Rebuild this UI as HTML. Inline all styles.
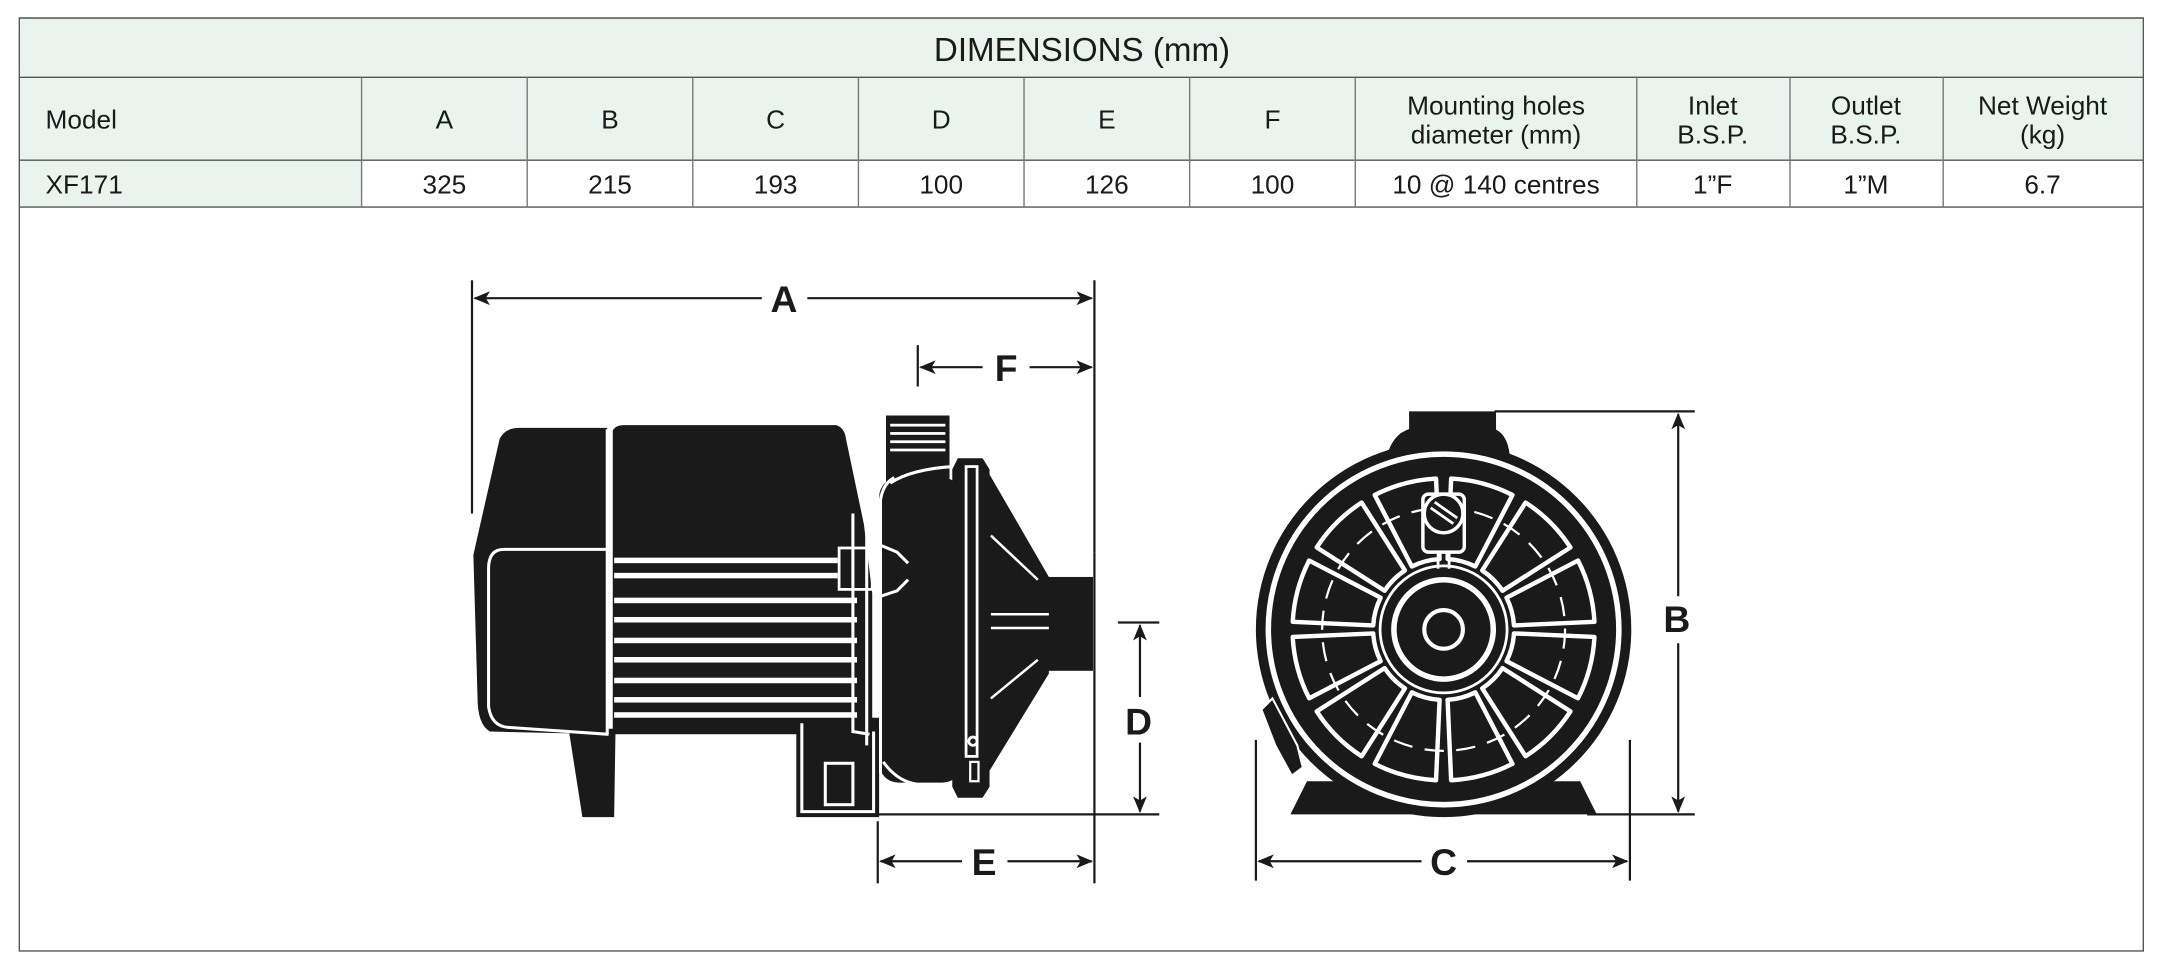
<!DOCTYPE html>
<html><head><meta charset="utf-8"><style>
html,body{margin:0;padding:0;background:#fff;}
svg{display:block;}
text{font-family:"Liberation Sans",sans-serif;fill:#1a1a1a;}
.h{font-size:19px;}
.d{font-size:19px;}
.L{font-family:"Liberation Sans",sans-serif;font-weight:bold;font-size:27px;fill:#1a1a1a;}
</style></head><body>
<svg width="2164" height="969" viewBox="0 0 1568 702" xmlns="http://www.w3.org/2000/svg">
<defs>
<marker id="ar" viewBox="0 0 12 10" refX="11" refY="5" markerWidth="12" markerHeight="10" markerUnits="userSpaceOnUse" orient="auto-start-reverse">
<path d="M0,0 L12,5 L0,10 L3,5 Z" fill="#1a1a1a"/>
</marker>
<path id="win" d="M -10.4 -50 L -23 -107 A 110 110 0 0 1 23 -107 L 10.4 -50 A 51 51 0 0 0 -10.4 -50 Z" fill="none" stroke="#fff" stroke-width="3.2" stroke-linejoin="round"/>
</defs>
<!-- table -->
<rect x="14" y="13" width="1539" height="676" fill="#fff" stroke="#555" stroke-width="1"/>
<rect x="14.5" y="13.5" width="1538" height="102.5" fill="#e8f4ed"/>
<rect x="14.5" y="116" width="247.5" height="34" fill="#e8f4ed"/>
<line x1="14" y1="13" x2="1553" y2="13" stroke="#555"/>
<line x1="14" y1="56" x2="1553" y2="56" stroke="#555"/>
<line x1="14" y1="116" x2="1553" y2="116" stroke="#555"/>
<line x1="14" y1="150" x2="1553" y2="150" stroke="#555"/>
<g stroke="#777" stroke-width="1">
<line x1="262" y1="56" x2="262" y2="150"/><line x1="382" y1="56" x2="382" y2="150"/>
<line x1="502" y1="56" x2="502" y2="150"/><line x1="622" y1="56" x2="622" y2="150"/>
<line x1="742" y1="56" x2="742" y2="150"/><line x1="862" y1="56" x2="862" y2="150"/>
<line x1="982" y1="56" x2="982" y2="150"/><line x1="1186" y1="56" x2="1186" y2="150"/>
<line x1="1297" y1="56" x2="1297" y2="150"/><line x1="1408" y1="56" x2="1408" y2="150"/>
</g>
<text x="784" y="44" text-anchor="middle" style="font-size:24px">DIMENSIONS (mm)</text>
<g class="h" text-anchor="middle">
<text x="33" y="93" text-anchor="start" class="h">Model</text>
<text x="322" y="93" class="h">A</text><text x="442" y="93" class="h">B</text>
<text x="562" y="93" class="h">C</text><text x="682" y="93" class="h">D</text>
<text x="802" y="93" class="h">E</text><text x="922" y="93" class="h">F</text>
<text x="1084" y="83" class="h">Mounting holes</text><text x="1084" y="104" class="h">diameter (mm)</text>
<text x="1241" y="83" class="h">Inlet</text><text x="1241" y="104" class="h">B.S.P.</text>
<text x="1352" y="83" class="h">Outlet</text><text x="1352" y="104" class="h">B.S.P.</text>
<text x="1480" y="83" class="h">Net Weight</text><text x="1480" y="104" class="h">(kg)</text>
</g>
<g class="d" text-anchor="middle">
<text x="33" y="140" text-anchor="start" class="d">XF171</text>
<text x="322" y="140" class="d">325</text><text x="442" y="140" class="d">215</text>
<text x="562" y="140" class="d">193</text><text x="682" y="140" class="d">100</text>
<text x="802" y="140" class="d">126</text><text x="922" y="140" class="d">100</text>
<text x="1084" y="140" class="d">10 @ 140 centres</text>
<text x="1241" y="140" class="d">1”F</text><text x="1352" y="140" class="d">1”M</text>
<text x="1480" y="140" class="d">6.7</text>
</g>

<!-- dimension lines side view -->
<g stroke="#1a1a1a" stroke-width="1.6" fill="none">
<line x1="342" y1="203" x2="342" y2="372"/>
<line x1="793" y1="203" x2="793" y2="400"/>
<line x1="344" y1="216" x2="552" y2="216" marker-start="url(#ar)"/>
<line x1="585" y1="216" x2="791" y2="216" marker-end="url(#ar)"/>
<line x1="665" y1="250" x2="665" y2="280"/>
<line x1="667" y1="266" x2="712" y2="266" marker-start="url(#ar)"/>
<line x1="746" y1="266" x2="791" y2="266" marker-end="url(#ar)"/>
<line x1="810" y1="451" x2="840" y2="451"/>
<line x1="636" y1="590" x2="840" y2="590"/>
<line x1="826" y1="453" x2="826" y2="505" marker-start="url(#ar)"/>
<line x1="826" y1="538" x2="826" y2="588" marker-end="url(#ar)"/>
<line x1="793" y1="400" x2="793" y2="640"/>
<line x1="636" y1="595" x2="636" y2="640"/>
<line x1="638" y1="624" x2="697" y2="624" marker-start="url(#ar)"/>
<line x1="730" y1="624" x2="791" y2="624" marker-end="url(#ar)"/>
</g>
<text x="568" y="226" text-anchor="middle" class="L">A</text>
<text x="729" y="276" text-anchor="middle" class="L">F</text>
<text x="825" y="532" text-anchor="middle" class="L">D</text>
<text x="713" y="634" text-anchor="middle" class="L">E</text>

<!-- side view pump -->
<g fill="#1a1a1a">
<!-- rear cap -->
<path d="M362,318 Q366,310 376,310 L440,310 L441,532 L355,530 Q346,525 346,505 L343,402 Z"/>
<!-- motor top body -->
<path d="M444,312 Q446,308 452,308 L606,308 Q612,310 613,318 L626,380 L632,430 L632,532 L444,532 Z"/>
<!-- feet -->
<path d="M412,528 L446,528 L445,592 L422,592 Z"/>
<rect x="577" y="520" width="60" height="72"/>
<!-- casing -->
<rect x="637" y="346" width="60" height="221" rx="14"/>
<rect x="642" y="301" width="46" height="50"/>
<!-- flange -->
<path d="M694,332 L712,332 L717,340 L717,570 L712,578 L694,578 L690,570 L690,340 Z"/>
<!-- cone -->
<path d="M716,342 L760,418 L760,488 L716,560 Z"/>
<rect x="758" y="418" width="34" height="68"/>
</g>
<g fill="none" stroke="#fff" stroke-width="2.2">
<path d="M440,311 L440,532"/>
<path d="M441,398 L365,398 Q354,398 354,412 L354,512 Q356,526 368,527 L441,532"/>
<rect x="598" y="553" width="20" height="30"/>
<path d="M581,524 L581,588 L633,588 L633,530"/>
<path d="M618,372 L618,530 L630,532"/>
<path d="M628,372 L628,540"/>
<path d="M648,346 Q640,350 638,362 L638,560"/>
<path d="M645,350 Q660,340 690,338"/>
<path d="M640,552 Q650,566 664,568"/>
<path d="M638,395 L650,400 L658,408"/>
<path d="M638,432 L650,428 L658,420"/>
<rect x="700" y="338" width="8" height="210" stroke-width="2"/>
<path d="M718,388 L752,420 M718,506 L752,478 M718,445 L760,445 M718,455 L760,455" stroke-width="1.8"/>
<rect x="608" y="397" width="24" height="30" stroke-width="2"/>
<circle cx="705" cy="537" r="3" stroke-width="2"/>
<rect x="703" y="552" width="6" height="14" stroke-width="1.6"/>
</g>
<g fill="#fff">
<rect x="445" y="404" width="162" height="4"/>
<rect x="445" y="415" width="162" height="4"/>
<rect x="445" y="433" width="176" height="4"/>
<rect x="445" y="447" width="176" height="4"/>
<rect x="445" y="462" width="176" height="4"/>
<rect x="445" y="476" width="176" height="4"/>
<rect x="445" y="491" width="176" height="4"/>
<rect x="445" y="505" width="176" height="4"/>
<rect x="445" y="516" width="176" height="4"/>
<rect x="645" y="307" width="40" height="2"/>
<rect x="645" y="313" width="40" height="2"/>
<rect x="645" y="319" width="40" height="2"/>
<rect x="645" y="325" width="40" height="2"/>
</g>

<!-- front view -->
<g stroke="#1a1a1a" stroke-width="1.6" fill="none">
<line x1="1083" y1="298" x2="1228" y2="298"/>
<line x1="1150" y1="590" x2="1228" y2="590"/>
<line x1="1216" y1="300" x2="1216" y2="432" marker-start="url(#ar)"/>
<line x1="1216" y1="466" x2="1216" y2="588" marker-end="url(#ar)"/>
<line x1="910" y1="536" x2="910" y2="638"/>
<line x1="1181" y1="536" x2="1181" y2="638"/>
<line x1="912" y1="624" x2="1030" y2="624" marker-start="url(#ar)"/>
<line x1="1063" y1="624" x2="1179" y2="624" marker-end="url(#ar)"/>
</g>
<text x="1215" y="458" text-anchor="middle" class="L">B</text>
<text x="1046" y="634" text-anchor="middle" class="L">C</text>
<g fill="#1a1a1a">
<rect x="1021" y="298" width="63" height="20"/>
<path d="M1005,330 Q1010,312 1025,310 L1080,310 Q1092,312 1094,330 Z"/>
<path d="M935,590 L947,566 L1145,566 L1157,590 Z"/>
<circle cx="1046" cy="456" r="136"/>
</g>
<circle cx="1046" cy="456" r="127" fill="none" stroke="#fff" stroke-width="4"/>
<g transform="translate(1046,456)">
<use href="#win" transform="rotate(15)"/><use href="#win" transform="rotate(45)"/>
<use href="#win" transform="rotate(75)"/><use href="#win" transform="rotate(105)"/>
<use href="#win" transform="rotate(135)"/><use href="#win" transform="rotate(165)"/>
<use href="#win" transform="rotate(195)"/><use href="#win" transform="rotate(225)"/>
<use href="#win" transform="rotate(255)"/><use href="#win" transform="rotate(285)"/>
<use href="#win" transform="rotate(315)"/><use href="#win" transform="rotate(345)"/>
<circle r="88" fill="none" stroke="#fff" stroke-width="1.6" stroke-dasharray="14 9"/>
<circle r="46" fill="#1a1a1a" stroke="#fff" stroke-width="2"/>
<circle r="36" fill="#1a1a1a" stroke="#fff" stroke-width="4"/>
<circle r="14" fill="#1a1a1a" stroke="#fff" stroke-width="3"/>
</g>
<g>
<rect x="1031" y="358" width="30" height="42" rx="4" fill="#1a1a1a" stroke="#fff" stroke-width="2.5"/>
<circle cx="1046" cy="372" r="14" fill="#1a1a1a" stroke="#fff" stroke-width="2.5"/>
<rect x="1036" y="368" width="20" height="7" transform="rotate(35 1046 372)" fill="#fff"/>
<rect x="1036" y="370" width="20" height="3" transform="rotate(35 1046 372)" fill="#1a1a1a"/>
<line x1="1042" y1="400" x2="1042" y2="412" stroke="#fff" stroke-width="2"/>
<line x1="1050" y1="400" x2="1050" y2="412" stroke="#fff" stroke-width="2"/>
</g>
<g fill="#1a1a1a" stroke="#fff" stroke-width="1.5">
<path d="M914,514 L922,506 L940,540 L944,556 L936,562 L924,540 Z"/>
</g>
</svg>
</body></html>
